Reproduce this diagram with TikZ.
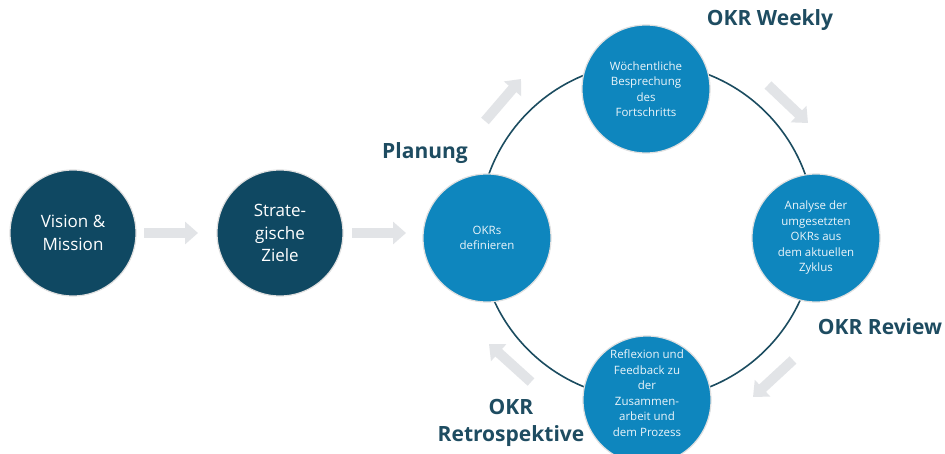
\documentclass[tikz,border=0pt]{standalone}
\usepackage{fontspec}
\setmainfont{Open Sans}
\usetikzlibrary{arrows.meta}
\definecolor{darkc}{HTML}{0F4862}
\definecolor{bluec}{HTML}{0E86BE}
\definecolor{ringc}{HTML}{1B4C60}
\definecolor{labc}{HTML}{1E4C61}
\definecolor{greyar}{HTML}{E2E4E7}
\tikzset{
  darknode/.style={circle, fill=darkc, draw=black!12, line width=1.2pt, minimum size=126pt, inner sep=0pt,
    text=white, align=center, font=\fontsize{17}{22.5}\selectfont},
  bluenode/.style={circle, fill=bluec, draw=black!12, line width=1.2pt, minimum size=128pt, inner sep=0pt,
    text=white!92!bluec, align=center, font=\fontsize{11.5}{15.5}\selectfont},
  phase/.style={text=labc, align=center, font=\bfseries\fontsize{21}{27}\selectfont, inner sep=0pt},
  ringline/.style={draw=ringc, line width=1.6pt},
  greyarrow/.style={draw=greyar, line width=10pt, -{Triangle[width=22pt,length=13pt]}},
}
\begin{document}
\begin{tikzpicture}[x=1pt,y=-1pt]
\useasboundingbox[fill=white] (0,0) rectangle (945,453);
% ring
\coordinate (rc) at (647,231);
\draw[ringline] (rc) circle (168pt);
% dark nodes
\node[darknode] (vm) at (73,233) {Vision \&\\Mission};
\node[darknode] (sz) at (280,233) {Strate-\\gische\\Ziele};
% blue nodes
\node[bluenode] (okr) at (487,238) {OKRs\\definieren};
\node[bluenode] (wk) at (646,89) {Wöchentliche\\Besprechung\\des\\Fortschritts};
\node[bluenode] (an) at (816,238) {Analyse der\\umgesetzten\\OKRs aus\\dem aktuellen\\Zyklus};
\node[bluenode, text depth=0pt] (rf) at (647,400) {};
\node[text=white!92!bluec, align=center, font=\fontsize{11.5}{15.5}\selectfont, inner sep=0pt] (rft) at (647,393)
  {Reflexion und\\Feedback zu\\der\\Zusammen-\\arbeit und\\dem Prozess};
% labels
\node[phase] (lp) at (425,153) {Planung};
\node[phase] (lw) at (770,20) {OKR Weekly};
\node[phase] (lr) at (880,327) {OKR Review};
\node[phase] (lrt) at (511,423) {OKR\\Retrospektive};
% grey arrows
\coordinate (a1s) at (144,233); \coordinate (a1e) at (198,233);
\coordinate (a2s) at (352,233); \coordinate (a2e) at (406,233);
\coordinate (a3s) at (485,121); \coordinate (a3e) at (521,79);
\coordinate (a4s) at (768,85);  \coordinate (a4e) at (808,123);
\coordinate (a5s) at (793,360); \coordinate (a5e) at (753,397);
\coordinate (a6s) at (531,382); \coordinate (a6e) at (489,344);
\foreach \s/\e in {a1s/a1e,a2s/a2e,a3s/a3e,a4s/a4e,a5s/a5e,a6s/a6e}
  \draw[greyarrow] (\s) -- (\e);
\end{tikzpicture}
\end{document}
